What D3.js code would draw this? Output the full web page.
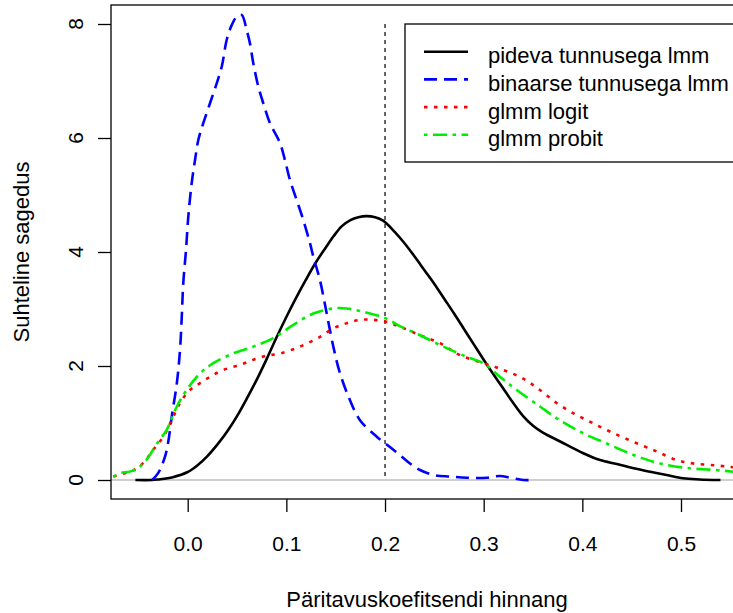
<!DOCTYPE html>
<html>
<head>
<meta charset="utf-8">
<script src="https://cdn.jsdelivr.net/npm/d3@7"></script>
<style>
  body { margin: 0; background: white; }
  text { font-family: "Liberation Sans", Arial, Helvetica, sans-serif; fill: black; }
</style>
</head>
<body>
<svg id="chart" width="733" height="613"></svg>
<script>
// density curves: [estimate, density]
var pideva = [
  [-0.053, 0], [-0.036, 0], [-0.03, 0.01], [-0.015, 0.05], [0.0, 0.14], [0.01, 0.26],
  [0.02, 0.42], [0.03, 0.62], [0.04, 0.85], [0.05, 1.12], [0.06, 1.43], [0.07, 1.76],
  [0.08, 2.12], [0.09, 2.5], [0.1, 2.86], [0.11, 3.2], [0.12, 3.52], [0.13, 3.82],
  [0.14, 4.08], [0.148, 4.28], [0.156, 4.45], [0.165, 4.56], [0.173, 4.61], [0.181, 4.63],
  [0.19, 4.61], [0.198, 4.55], [0.21, 4.35], [0.22, 4.15], [0.23, 3.92], [0.24, 3.68],
  [0.25, 3.44], [0.26, 3.18], [0.27, 2.92], [0.28, 2.65], [0.29, 2.38], [0.30, 2.11],
  [0.31, 1.85], [0.32, 1.60], [0.33, 1.35], [0.34, 1.12], [0.35, 0.95], [0.36, 0.83],
  [0.377, 0.68], [0.401, 0.47], [0.418, 0.35], [0.435, 0.28], [0.452, 0.205], [0.47, 0.14],
  [0.4855, 0.088], [0.502, 0.03], [0.519, 0.01], [0.54, 0]
];
var binaarne = [
  [-0.036, 0], [-0.030, 0.12], [-0.023, 0.41], [-0.0197, 0.67], [-0.0162, 1.11], [-0.011, 1.70],
  [-0.0078, 2.28], [-0.006, 2.87], [-0.0045, 3.45], [-0.0017, 4.04], [0.0006, 4.62], [0.004, 5.2],
  [0.0074, 5.61], [0.0107, 5.96], [0.0158, 6.26], [0.0226, 6.61], [0.0294, 6.96], [0.0345, 7.25],
  [0.0395, 7.72], [0.0446, 7.98], [0.0497, 8.13], [0.0547, 8.16], [0.0598, 7.89], [0.0631, 7.66],
  [0.0665, 7.31], [0.0716, 6.9], [0.0766, 6.61], [0.0834, 6.26], [0.0936, 5.91], [0.0986, 5.61],
  [0.1037, 5.26], [0.1105, 4.91], [0.1172, 4.56], [0.124, 4.15], [0.1273, 3.92], [0.134, 3.51],
  [0.1409, 2.92], [0.1476, 2.34], [0.1544, 1.87], [0.1645, 1.40], [0.1746, 1.05], [0.1916, 0.76],
  [0.205, 0.58], [0.215, 0.44], [0.2253, 0.29], [0.2355, 0.175], [0.249, 0.088], [0.266, 0.06],
  [0.283, 0.04], [0.303, 0.04], [0.3165, 0.07], [0.327, 0.04], [0.34, 0.0], [0.3487, 0]
];
var logit = [
  [-0.0754, 0.06], [-0.0636, 0.12], [-0.055, 0.17], [-0.045, 0.30], [-0.035, 0.53], [-0.0247, 0.76],
  [-0.0162, 1.05], [-0.0078, 1.35], [0.0023, 1.58], [0.0125, 1.70], [0.0226, 1.81], [0.036, 1.93],
  [0.053, 2.02], [0.0665, 2.11], [0.08, 2.18], [0.0936, 2.22], [0.1138, 2.34], [0.134, 2.51],
  [0.1476, 2.66], [0.161, 2.75], [0.1746, 2.81], [0.188, 2.81], [0.2003, 2.78], [0.215, 2.69],
  [0.2355, 2.54], [0.2557, 2.40], [0.276, 2.19], [0.2996, 2.05], [0.32, 1.93], [0.34, 1.78],
  [0.357, 1.58], [0.374, 1.35], [0.391, 1.17], [0.408, 1.02], [0.428, 0.85], [0.4517, 0.67],
  [0.4754, 0.50], [0.4956, 0.35], [0.5125, 0.29], [0.533, 0.26], [0.55, 0.23], [0.56, 0.21]
];
var probit = [
  [-0.0754, 0.06], [-0.0686, 0.12], [-0.056, 0.16], [-0.045, 0.29], [-0.035, 0.53], [-0.0298, 0.67],
  [-0.0213, 0.88], [-0.011, 1.29], [-0.001, 1.58], [0.0125, 1.87], [0.026, 2.05], [0.046, 2.22],
  [0.0665, 2.34], [0.0868, 2.49], [0.107, 2.72], [0.1273, 2.92], [0.1476, 3.01], [0.161, 3.01],
  [0.178, 2.95], [0.2003, 2.84], [0.215, 2.70], [0.2355, 2.54], [0.259, 2.34], [0.283, 2.16],
  [0.2996, 2.05], [0.3165, 1.81], [0.3335, 1.58], [0.357, 1.29], [0.377, 1.05], [0.401, 0.82],
  [0.4247, 0.64], [0.4517, 0.44], [0.4787, 0.29], [0.509, 0.205], [0.536, 0.175], [0.55, 0.15], [0.56, 0.14]
];

var xTicks = [0.0, 0.1, 0.2, 0.3, 0.4, 0.5];
var yTicks = [0, 2, 4, 6, 8];
var legendLabels = ["pideva tunnusega lmm", "binaarse tunnusega lmm", "glmm logit", "glmm probit"];
var trueValue = 0.2;

var series = [
  {data: pideva,   color: "black", dash: null},
  {data: binaarne, color: "blue",  dash: "13,7"},
  {data: logit,    color: "red",   dash: "3.5,6.5"},
  {data: probit,   color: "#00ee00", dash: "3.5,5.5,14,5.5"}
];

var box = {left: 111, right: 743, top: 5, bottom: 499};

var xScale = d3.scaleLinear()
    .domain([0, 0.5])
    .range([187.7, 681]);

var yScale = d3.scaleLinear()
    .domain([0, 8])
    .range([480, 24]);

var svg = d3.select("#chart");

// zero line
svg.append("line")
    .attr("x1", box.left).attr("x2", box.right)
    .attr("y1", yScale(0)).attr("y2", yScale(0))
    .attr("stroke", "#bebebe")
    .attr("stroke-width", 1.5);

// true value
svg.append("line")
    .attr("x1", xScale(trueValue)).attr("x2", xScale(trueValue))
    .attr("y1", yScale(8)).attr("y2", yScale(0))
    .attr("stroke", "black")
    .attr("stroke-width", 1.2)
    .attr("stroke-dasharray", "4,4");

var line = d3.line()
    .x(function(d) { return xScale(d[0]); })
    .y(function(d) { return yScale(d[1]); })
    .curve(d3.curveCatmullRom.alpha(0.5));

svg.append("clipPath").attr("id", "plotclip")
    .append("rect")
    .attr("x", box.left).attr("y", box.top)
    .attr("width", box.right - box.left).attr("height", box.bottom - box.top);

// Append density curves
svg.append("g")
    .attr("clip-path", "url(#plotclip)")
    .selectAll("path")
    .data(series)
    .enter()
    .append("path")
    .attr("d", function(s) { return line(s.data); })
    .attr("fill", "none")
    .attr("stroke", function(s) { return s.color; })
    .attr("stroke-width", 2.6)
    .attr("stroke-dasharray", function(s) { return s.dash; });

// plot box
svg.append("rect")
    .attr("x", box.left).attr("y", box.top)
    .attr("width", box.right - box.left).attr("height", box.bottom - box.top)
    .attr("fill", "none")
    .attr("stroke", "black")
    .attr("stroke-width", 1.3);

// Append X Axis
var xAxis = d3.axisBottom(xScale)
    .tickValues(xTicks)
    .tickFormat(d3.format(".1f"))
    .tickSize(13)
    .tickPadding(24);

svg.append("g")
    .attr("transform", "translate(0," + box.bottom + ")")
    .call(xAxis)
    .call(function(g) {
        g.select(".domain").remove();
        g.selectAll("line").attr("stroke-width", 1.3);
        g.selectAll("text").attr("font-size", 21).attr("font-family", null);
    });

// Append Y Axis
var yAxis = d3.axisLeft(yScale)
    .tickValues(yTicks)
    .tickSize(13);

svg.append("g")
    .attr("transform", "translate(" + box.left + ",0)")
    .call(yAxis)
    .call(function(g) {
        g.select(".domain").remove();
        g.selectAll("line").attr("stroke-width", 1.3);
        g.selectAll("text").remove();
    });

svg.append("g")
    .selectAll("text")
    .data(yTicks)
    .enter()
    .append("text")
    .attr("transform", function(d) { return "translate(83," + yScale(d) + ") rotate(-90)"; })
    .attr("text-anchor", "middle")
    .attr("font-size", 21)
    .text(function(d) { return d; });

// axis titles
svg.append("text")
    .attr("x", (box.left + box.right) / 2)
    .attr("y", 606.7)
    .attr("text-anchor", "middle")
    .attr("font-size", 22)
    .text("Päritavuskoefitsendi hinnang");

svg.append("text")
    .attr("transform", "translate(29.3," + (box.top + box.bottom) / 2 + ") rotate(-90)")
    .attr("text-anchor", "middle")
    .attr("font-size", 22)
    .text("Suhteline sagedus");

// legend
var legend = svg.append("g");
legend.append("rect")
    .attr("x", 405).attr("y", 24)
    .attr("width", 360).attr("height", 138)
    .attr("fill", "white")
    .attr("stroke", "black")
    .attr("stroke-width", 1.3);

var rows = legend.selectAll("g.row")
    .data(series)
    .enter()
    .append("g")
    .attr("class", "row")
    .attr("transform", function(s, i) { return "translate(0," + (51.7 + i * 27.7) + ")"; });

rows.append("line")
    .attr("x1", 424).attr("x2", 468)
    .attr("stroke", function(s) { return s.color; })
    .attr("stroke-width", 2.6)
    .attr("stroke-dasharray", function(s) { return s.dash; });

rows.append("text")
    .attr("x", 488)
    .attr("y", 11.6)
    .attr("font-size", 22)
    .text(function(s, i) { return legendLabels[i]; });
</script>
</body>
</html>
